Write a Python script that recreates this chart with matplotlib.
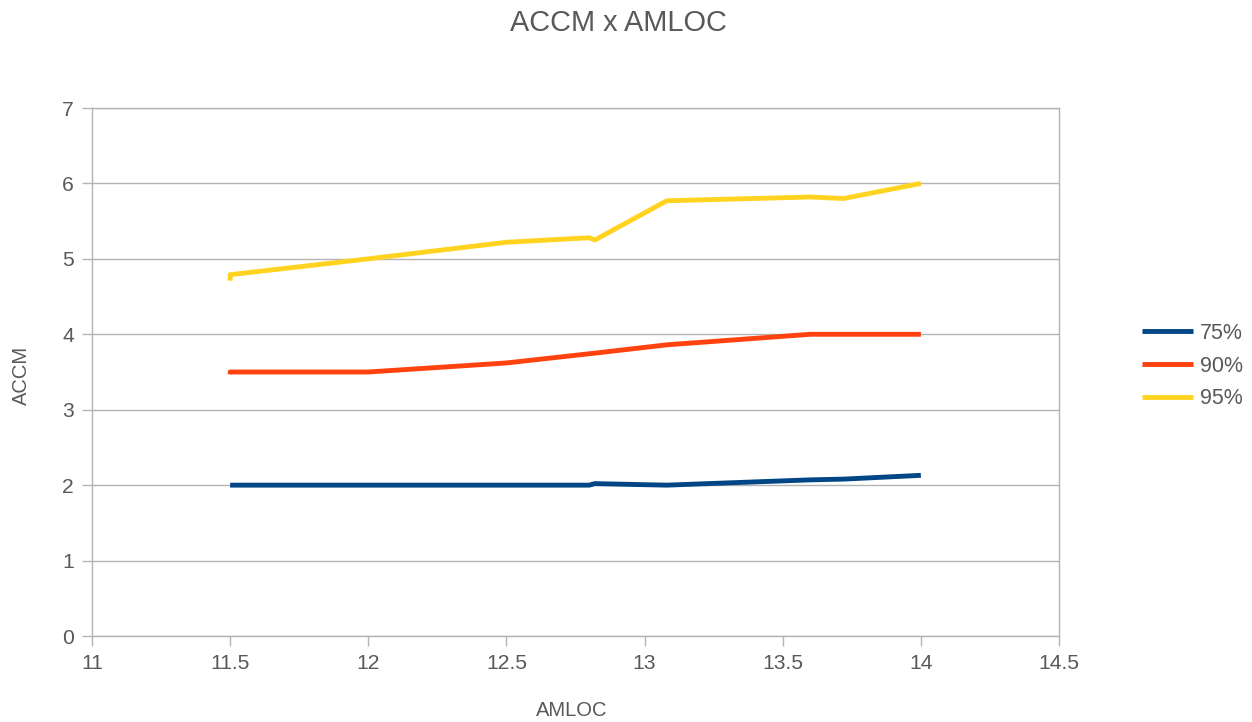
import matplotlib
matplotlib.use("Agg")
import matplotlib.pyplot as plt

plt.rcParams['font.family'] = ['Liberation Sans', 'DejaVu Sans']

title = "ACCM x AMLOC"
x_label = "AMLOC"
y_label = "ACCM"
series_names = ["75%", "90%", "95%"]

x_75 = [11.5, 12.0, 12.5, 12.8, 12.82, 13.08, 13.6, 13.72, 14.0]
y_75 = [2.0, 2.0, 2.0, 2.0, 2.02, 2.0, 2.07, 2.08, 2.13]

x_90 = [11.5, 11.5, 12.0, 12.5, 12.82, 13.08, 13.6, 13.72, 14.0]
y_90 = [3.47, 3.5, 3.5, 3.62, 3.75, 3.86, 4.0, 4.0, 4.0]

x_95 = [11.5, 11.5, 12.0, 12.5, 12.8, 12.82, 13.08, 13.6, 13.72, 14.0]
y_95 = [4.71, 4.79, 5.0, 5.22, 5.28, 5.25, 5.77, 5.82, 5.8, 6.0]

x_ticks = [11, 11.5, 12, 12.5, 13, 13.5, 14, 14.5]
x_tick_labels = ["11", "11.5", "12", "12.5", "13", "13.5", "14", "14.5"]
y_ticks = [0, 1, 2, 3, 4, 5, 6, 7]

colors = ["#004586", "#ff420e", "#ffd320"]
text_color = "#595959"
grid_color = "#b3b3b3"

fig = plt.figure(figsize=(12.52, 7.22), dpi=100)
ax = fig.add_axes([92/1252, 86/722, (1059-92)/1252, (636-108)/722])

for xs, ys, c, name in zip([x_75, x_90, x_95], [y_75, y_90, y_95], colors, series_names):
    ax.plot(xs, ys, color=c, lw=3.5, label=name, solid_capstyle='butt', solid_joinstyle='round')

ax.set_xlim(11, 14.5)
ax.set_ylim(0, 7)
ax.set_xticks(x_ticks)
ax.set_xticklabels(x_tick_labels)
ax.set_yticks(y_ticks)
ax.yaxis.grid(True, color=grid_color, lw=1)
ax.set_axisbelow(True)
for s in ax.spines.values():
    s.set_color(grid_color)
    s.set_linewidth(1)
ax.tick_params(axis='both', colors=grid_color, labelcolor=text_color, labelsize=15.2, length=7, width=1, direction='out')
ax.tick_params(axis='x', pad=6)
ax.tick_params(axis='y', pad=6)

fig.text(618/1252, 1 - 23/722, title, ha='center', va='center', fontsize=20.8, color=text_color)
fig.text(572/1252, 1 - 711/722, x_label, ha='center', va='center', fontsize=14.5, color=text_color)
fig.text(21/1252, 1 - 375/722, y_label, ha='center', va='center', fontsize=14.5, color=text_color, rotation=90)

leg = fig.legend(loc='center left', bbox_to_anchor=(1133/1252, 1 - 366/722), frameon=False,
                 fontsize=15.5, labelcolor=text_color, handlelength=2.4, handletextpad=0.3,
                 labelspacing=0.55, borderaxespad=0)

fig.savefig("out.png", dpi=100)
